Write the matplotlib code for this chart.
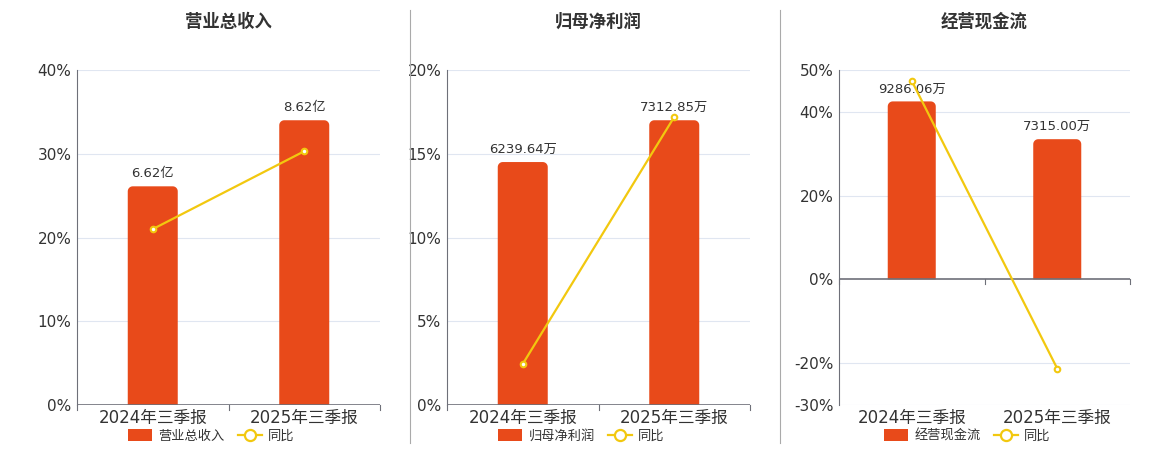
import numpy as np
import matplotlib.pyplot as plt
from matplotlib.patches import Rectangle, Polygon
from matplotlib.lines import Line2D

plt.rcParams['font.family'] = ['DejaVu Sans', 'Noto Sans CJK SC']

categories = ["2024年三季报", "2025年三季报"]
titles = ["营业总收入", "归母净利润", "经营现金流"]
bar_names = ["营业总收入", "归母净利润", "经营现金流"]
bar_values = [[6.62, 8.62], [6239.64, 7312.85], [9286.06, 7315.00]]
bar_labels = [["6.62亿", "8.62亿"], ["6239.64万", "7312.85万"], ["9286.06万", "7315.00万"]]
yoy_values = [[21.0, 30.3], [2.45, 17.2], [47.4, -21.3]]
y_ticks = [[0, 10, 20, 30, 40], [0, 5, 10, 15, 20], [-30, -20, 0, 20, 40, 50]]

BAR_COLOR = "#E84A1A"
LINE_COLOR = "#F2C80F"
TEXT_COLOR = "#333333"
AXIS_COLOR = "#6E7079"
GRID_COLOR = "#E0E6F1"

fig = plt.figure(figsize=(11.6, 4.5), dpi=100)
W, H = 1160, 450
boxes = [(77, 380), (447, 750), (839, 1130)]
top_px, bot_px = 70, 405


def rounded_bar(ax, xc, width, height, rx, ry):
    # bar with rounded top corners only
    left, right = xc - width / 2, xc + width / 2
    t = np.linspace(0, np.pi / 2, 10)
    pts = [(left, 0), (right, 0)]
    pts += [(right - rx + rx * np.cos(a), height - ry + ry * np.sin(a)) for a in t]
    pts += [(left + rx - rx * np.cos(a), height - ry + ry * np.sin(a)) for a in t[::-1]]
    ax.add_patch(Polygon(pts, closed=True, fc=BAR_COLOR, ec='none', zorder=2))


for i in range(3):
    x0, x1 = boxes[i]
    ax = fig.add_axes([x0 / W, 1 - bot_px / H, (x1 - x0) / W, (bot_px - top_px) / H])
    ticks = y_ticks[i]
    ymin, ymax = ticks[0], ticks[-1]
    ax.set_ylim(ymin, ymax)
    ax.set_xlim(-0.5, 1.5)
    ax.set_yticks(ticks)
    ax.set_yticklabels([f"{t}%" for t in ticks], fontsize=11, color=TEXT_COLOR)
    ax.tick_params(axis='y', length=0, pad=4)
    for t in ticks:
        if t != 0:
            ax.axhline(t, color=GRID_COLOR, lw=0.8, zorder=0)
    for s in ['top', 'right', 'bottom']:
        ax.spines[s].set_visible(False)
    ax.spines['left'].set_color(AXIS_COLOR)
    ax.spines['left'].set_linewidth(0.8)

    # zero line + ticks at category boundaries
    ax.axhline(0, color=AXIS_COLOR, lw=1.2, zorder=4)
    ax.set_xticks([0, 1])
    ax.set_xticklabels(categories, fontsize=12, color=TEXT_COLOR)
    ax.tick_params(axis='x', length=0, pad=3)
    span = ymax - ymin
    px_x = 2.0 / (x1 - x0)
    px_y = span / (bot_px - top_px)
    for bx in [-0.5, 0.5, 1.5]:
        ax.plot([bx, bx], [0, -5 * px_y], color=AXIS_COLOR, lw=0.8, clip_on=False, zorder=4)

    # bars scaled to 85% of top value on a shared zero
    vals = bar_values[i]
    scale = 0.85 * ymax / max(vals)
    bw = 0.33
    for j, v in enumerate(vals):
        h = v * scale
        rounded_bar(ax, j, bw, h, 5 * px_x, 5 * px_y)
        ax.text(j, h + 6 * px_y, bar_labels[i][j], ha='center', va='bottom',
                fontsize=9.5, color=TEXT_COLOR, zorder=5)

    ax.plot([0, 1], yoy_values[i], color=LINE_COLOR, lw=1.6, marker='o', ms=4,
            mfc='white', mec=LINE_COLOR, mew=1.5, zorder=6, clip_on=False)

    cx = (x0 + x1) / 2
    fig.text(cx / W, 1 - 22 / H, titles[i], ha='center', va='center',
             fontsize=12.5, fontweight='bold', color=TEXT_COLOR)

    handles = [Rectangle((0, 0), 1, 1, fc=BAR_COLOR, ec='none'),
               Line2D([], [], color=LINE_COLOR, lw=1.6, marker='o', ms=8,
                      mfc='white', mec=LINE_COLOR, mew=1.6)]
    fig.legend(handles, [bar_names[i], "同比"], loc='center',
               bbox_to_anchor=((cx - 17) / W, 1 - 436 / H), ncol=2, frameon=False,
               fontsize=9.5, labelcolor=TEXT_COLOR, handlelength=1.8, handleheight=1.0,
               columnspacing=1.0, handletextpad=0.5)

# separators
for sx in [410, 780]:
    fig.add_artist(Line2D([sx / W, sx / W], [1 - 10 / H, 1 - 443 / H], color="#AAAAAA", lw=0.8))

fig.savefig("out.png", dpi=100)
